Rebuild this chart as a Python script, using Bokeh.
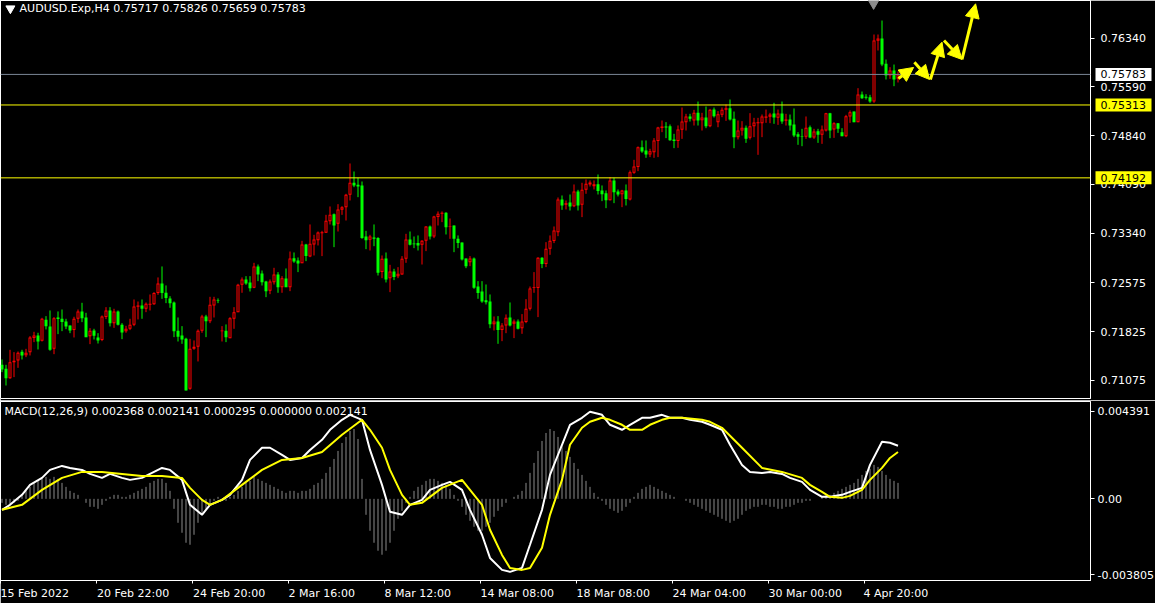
from bokeh.plotting import figure
from bokeh.layouts import column, row
from bokeh.models import Span, Label, Arrow, NormalHead, FixedTicker, Range1d, NumeralTickFormatter
from bokeh.core.properties import value
from bokeh.embed import file_html
from bokeh.resources import INLINE

# ---------------- data ----------------
opens = [0.71316,0.71255,0.71111,0.71357,0.71383,0.71516,0.71465,0.71511,0.71727,0.71768,
0.71685,0.72008,0.71906,0.71562,0.72044,0.72024,0.71983,0.71921,0.71850,0.72024,
0.72137,0.72044,0.71757,0.71844,0.71737,0.71696,0.72050,0.72152,0.71957,0.72137,
0.71932,0.71834,0.71870,0.71932,0.72208,0.72229,0.72178,0.72239,0.72249,0.72419,
0.72567,0.72424,0.72337,0.72275,0.71839,0.71768,0.71716,0.70947,0.71562,0.71593,
0.71839,0.72060,0.71988,0.72229,0.72306,0.71834,0.71839,0.71726,0.72024,0.72126,
0.72547,0.72629,0.72583,0.72501,0.72829,0.72721,0.72598,0.72454,0.72588,0.72706,
0.72511,0.72644,0.72511,0.72957,0.72921,0.72880,0.73167,0.72983,0.73167,0.73234,
0.73341,0.73347,0.73526,0.73634,0.73485,0.73700,0.73741,0.73931,0.74116,0.74085,
0.74075,0.73290,0.73239,0.73275,0.73265,0.72742,0.72952,0.72649,0.72752,0.72680,
0.72706,0.72947,0.73244,0.73182,0.73188,0.73162,0.73223,0.73444,0.73290,0.73588,
0.73639,0.73654,0.73439,0.73459,0.73254,0.73198,0.72952,0.72895,0.72952,0.72521,
0.72444,0.72311,0.72291,0.71942,0.71983,0.71850,0.71921,0.72044,0.71947,0.71983,
0.71880,0.71973,0.72178,0.72496,0.72496,0.72962,0.72865,0.73101,0.73219,0.73357,
0.73859,0.73777,0.73813,0.73757,0.73982,0.73777,0.74008,0.74090,0.74064,0.74095,
0.73998,0.73957,0.73849,0.74152,0.73982,0.73941,0.73998,0.73859,0.74270,0.74357,
0.74664,0.74613,0.74552,0.74587,0.74757,0.74957,0.74982,0.74987,0.74782,0.74757,
0.74930,0.75048,0.75136,0.75074,0.75192,0.75079,0.75120,0.74987,0.75243,0.75048,
0.75161,0.75238,0.75264,0.75100,0.74818,0.74920,0.74961,0.74807,0.74987,0.75033,
0.75033,0.75115,0.75130,0.75182,0.75115,0.75182,0.75069,0.75089,0.75012,0.74864,
0.74833,0.74823,0.74971,0.74813,0.74910,0.74854,0.74920,0.75187,0.74936,0.75033,
0.74895,0.74833,0.75136,0.75212,0.75048,0.75474,0.75438,0.75433,0.75366,0.76299,
0.76335,0.75946,0.75766,0.75843,0.75717]

highs = [0.71398,0.71316,0.71547,0.71511,0.71521,0.71547,0.71562,0.71757,0.71824,0.71809,
0.72039,0.72065,0.72152,0.72050,0.72137,0.72167,0.72024,0.71921,0.72055,0.72167,
0.72270,0.72116,0.71880,0.71870,0.71803,0.72075,0.72203,0.72203,0.72178,0.72152,
0.71957,0.71916,0.72024,0.72321,0.72290,0.72321,0.72275,0.72398,0.72434,0.72660,
0.72829,0.72537,0.72372,0.72290,0.72044,0.71911,0.71732,0.71716,0.71691,0.71860,
0.72085,0.72085,0.72362,0.72362,0.72337,0.71911,0.71937,0.72049,0.72203,0.72562,
0.72660,0.72680,0.72680,0.72885,0.72859,0.72767,0.72608,0.72629,0.72808,0.72742,
0.72680,0.72798,0.73059,0.73044,0.72967,0.73223,0.73177,0.73475,0.73316,0.73367,
0.73377,0.73623,0.73752,0.73644,0.73787,0.73757,0.73946,0.74413,0.74290,0.74192,
0.74136,0.73377,0.73316,0.73475,0.73280,0.72998,0.73044,0.72854,0.72793,0.72818,
0.72988,0.73331,0.73367,0.73290,0.73306,0.73234,0.73449,0.73459,0.73608,0.73675,
0.73675,0.73664,0.73567,0.73459,0.73306,0.73198,0.72952,0.72988,0.72967,0.72603,
0.72603,0.72552,0.72398,0.72060,0.72065,0.71957,0.72091,0.72275,0.72014,0.72014,
0.72096,0.72326,0.72521,0.72742,0.72972,0.72972,0.73203,0.73306,0.73444,0.73890,
0.73921,0.73844,0.73936,0.74090,0.74008,0.74116,0.74167,0.74152,0.74152,0.74244,
0.74075,0.73998,0.74203,0.74193,0.74013,0.74008,0.74090,0.74305,0.74469,0.74675,
0.74767,0.74767,0.74639,0.74803,0.74977,0.75074,0.75049,0.75013,0.74869,0.74998,
0.75274,0.75177,0.75177,0.75238,0.75366,0.75192,0.75289,0.75253,0.75274,0.75218,
0.75274,0.75320,0.75397,0.75212,0.75074,0.75064,0.74997,0.75187,0.75115,0.75115,
0.75166,0.75243,0.75192,0.75346,0.75243,0.75366,0.75177,0.75166,0.75259,0.74895,
0.74946,0.75136,0.74997,0.74946,0.74946,0.74997,0.75192,0.75192,0.75048,0.75033,
0.74956,0.75161,0.75228,0.75212,0.75571,0.75520,0.75479,0.75469,0.76397,0.76397,
0.76612,0.76012,0.75894,0.75935,0.75826]

lows = [0.71204,0.70998,0.71101,0.71127,0.71270,0.71398,0.71434,0.71460,0.71665,0.71552,
0.71675,0.71860,0.71532,0.71480,0.71788,0.71834,0.71865,0.71803,0.71737,0.71962,
0.71973,0.71742,0.71634,0.71706,0.71644,0.71680,0.72019,0.71906,0.71885,0.71921,
0.71711,0.71809,0.71850,0.71911,0.72014,0.72024,0.72126,0.72152,0.72239,0.72393,
0.72331,0.72265,0.72193,0.71742,0.71675,0.71639,0.70922,0.70932,0.71547,0.71368,
0.71809,0.71742,0.71957,0.72044,0.72265,0.71675,0.71665,0.71726,0.71870,0.72126,
0.72424,0.72547,0.72444,0.72495,0.72603,0.72536,0.72357,0.72403,0.72552,0.72424,
0.72424,0.72511,0.72449,0.72885,0.72742,0.72880,0.72911,0.72972,0.72998,0.73152,
0.72988,0.73347,0.73475,0.73126,0.73367,0.73623,0.73536,0.73844,0.74049,0.73895,
0.73254,0.73095,0.73075,0.73141,0.72690,0.72649,0.72583,0.72434,0.72619,0.72649,
0.72701,0.72885,0.73152,0.73111,0.73075,0.72859,0.73065,0.73244,0.73265,0.73459,
0.73511,0.73321,0.73254,0.73049,0.73111,0.72921,0.72803,0.72834,0.72485,0.72332,
0.72270,0.72244,0.71880,0.71844,0.71639,0.71680,0.71803,0.71906,0.71727,0.71860,
0.71793,0.71957,0.72152,0.72424,0.72050,0.72803,0.72819,0.73008,0.73188,0.73295,
0.73700,0.73706,0.73690,0.73741,0.73690,0.73588,0.73947,0.74059,0.74013,0.73936,
0.73834,0.73726,0.73844,0.73803,0.73906,0.73741,0.73767,0.73844,0.74254,0.74295,
0.74577,0.74500,0.74511,0.74500,0.74511,0.74895,0.74803,0.74762,0.74649,0.74654,
0.74792,0.74920,0.75059,0.74997,0.74997,0.74920,0.74956,0.74971,0.75120,0.74971,
0.75125,0.75069,0.75074,0.74648,0.74782,0.74843,0.74730,0.74782,0.74818,0.74546,
0.74818,0.75038,0.75033,0.75023,0.75007,0.75023,0.74997,0.74920,0.74818,0.74700,
0.74679,0.74792,0.74802,0.74792,0.74730,0.74715,0.74905,0.74802,0.74807,0.74884,
0.74833,0.74818,0.75038,0.75048,0.75048,0.75407,0.75397,0.75346,0.75346,0.76151,
0.75910,0.75705,0.75715,0.75602,0.75659]

closes = [0.71245,0.71111,0.71357,0.71378,0.71501,0.71460,0.71501,0.71737,0.71768,0.71675,
0.72024,0.71911,0.71547,0.72034,0.72019,0.71973,0.71906,0.71844,0.72024,0.72137,
0.72034,0.71742,0.71839,0.71762,0.71691,0.72060,0.72152,0.71957,0.72137,0.71932,
0.71814,0.71870,0.71932,0.72214,0.72229,0.72178,0.72255,0.72255,0.72419,0.72567,
0.72419,0.72342,0.72265,0.71834,0.71747,0.71706,0.70922,0.71562,0.71593,0.71839,
0.72060,0.71988,0.72239,0.72321,0.72296,0.71844,0.71742,0.72034,0.72126,0.72547,
0.72629,0.72567,0.72495,0.72829,0.72706,0.72588,0.72449,0.72598,0.72706,0.72511,
0.72649,0.72511,0.72952,0.72906,0.72875,0.73167,0.72988,0.73177,0.73244,0.73352,
0.73357,0.73531,0.73623,0.73459,0.73705,0.73741,0.73931,0.74116,0.74075,0.74059,
0.73265,0.73234,0.73290,0.73254,0.72731,0.72947,0.72629,0.72752,0.72665,0.72716,
0.72947,0.73244,0.73162,0.73172,0.73152,0.73223,0.73444,0.73290,0.73598,0.73639,
0.73654,0.73434,0.73449,0.73254,0.73188,0.72937,0.72834,0.72952,0.72501,0.72419,
0.72291,0.72280,0.71942,0.71983,0.71850,0.71921,0.72039,0.71921,0.71983,0.71870,
0.71983,0.72178,0.72490,0.72511,0.72962,0.72865,0.73101,0.73224,0.73383,0.73859,
0.73767,0.73803,0.73752,0.73982,0.73767,0.74008,0.74100,0.74121,0.74095,0.73988,
0.73941,0.73849,0.74152,0.73972,0.73936,0.73998,0.73865,0.74280,0.74367,0.74664,
0.74598,0.74552,0.74603,0.74767,0.74967,0.74982,0.74967,0.74772,0.74757,0.74936,
0.75059,0.75136,0.75100,0.75192,0.75074,0.75120,0.74987,0.75238,0.75141,0.75171,
0.75238,0.75264,0.75089,0.74818,0.74920,0.74961,0.74792,0.74987,0.75043,0.75048,
0.75136,0.75136,0.75166,0.75120,0.75182,0.75059,0.75089,0.74997,0.74843,0.74823,
0.74823,0.74961,0.74813,0.74905,0.74854,0.74936,0.75187,0.74920,0.75033,0.74946,
0.74833,0.75141,0.75202,0.75048,0.75474,0.75418,0.75423,0.75366,0.76304,0.76335,
0.75935,0.75766,0.75843,0.75705,0.75783]

# MACD main (white) and signal (yellow), read at bar positions
macd_bar = [0,2,5,7,10,12,15,17,20,22,25,27,30,32,35,37,40,42,45,47,50,52,55,57,60,62,65,67,70,72,
            75,77,80,82,85,87,90,92,95,97,100,102,105,107,110,112,115,117,120,122,125,127,130,132,135,137,
            140,142,145,147,150,152,155,157,160,162,165,167,170,172,175,177,180,182,185,187,190,192,195,197,
            200,202,205,207,210,212,215,217,220,222,224]
macd_main = [-0.00055,-0.00030,0.00020,0.00070,0.00105,0.00145,0.00165,0.00155,0.00145,0.00125,
             0.00105,0.00125,0.00105,0.00095,0.00105,0.00125,0.00155,0.00145,0.00095,-0.00030,
             -0.00080,-0.00030,-0.00005,0.00020,0.00095,0.00195,0.00256,0.00256,0.00220,0.00195,
             0.00205,0.00245,0.00296,0.00346,0.00396,0.00421,0.00396,0.00245,0.00070,-0.00065,
             -0.00080,-0.00030,-0.00005,0.00045,0.00070,0.00085,0.00045,-0.00055,-0.00180,-0.00296,
             -0.00356,-0.00366,-0.00346,-0.00230,-0.00055,0.00120,0.00271,0.00371,0.00406,0.00436,
             0.00421,0.00371,0.00346,0.00371,0.00406,0.00406,0.00421,0.00406,0.00406,0.00396,
             0.00386,0.00371,0.00346,0.00271,0.00170,0.00135,0.00130,0.00135,0.00125,0.00105,
             0.00085,0.00045,0.00010,0.00010,0.00020,0.00035,0.00055,0.00170,0.00286,0.00281,0.00266]
sig_bar = [0,5,10,15,20,25,30,35,40,45,47,50,52,55,60,65,70,75,80,85,90,92,95,97,100,102,105,110,115,117,
           120,122,125,127,130,132,135,137,140,142,145,147,150,152,155,157,160,162,165,167,170,175,177,180,
           185,190,195,200,202,205,207,210,212,215,217,220,222,224]
macd_signal = [-0.00055,-0.00030,0.00045,0.00105,0.00135,0.00135,0.00125,0.00115,0.00115,0.00105,
               0.00055,-0.00005,-0.00030,-0.00005,0.00070,0.00145,0.00195,0.00205,0.00235,0.00321,
               0.00396,0.00346,0.00256,0.00145,0.00020,-0.00030,-0.00020,0.00055,0.00095,0.00045,
               -0.00030,-0.00155,-0.00281,-0.00346,-0.00356,-0.00346,-0.00245,-0.00080,0.00095,0.00271,
               0.00356,0.00386,0.00406,0.00396,0.00371,0.00346,0.00346,0.00371,0.00396,0.00406,
               0.00406,0.00396,0.00386,0.00356,0.00256,0.00155,0.00135,0.00105,0.00070,0.00035,
               0.00010,0.00005,0.00015,0.00045,0.00095,0.00155,0.00205,0.00235]
macd_hist = [-0.0002,-0.0003,-0.0003,-0.0002,-0.0001,0.0002,0.0004,0.0006,0.0008,0.0009,
             0.0010,0.0011,0.0010,0.0011,0.0010,0.0008,0.0006,0.0004,0.0003,0.0002,
             0.0000,-0.0002,-0.0004,-0.0004,-0.0005,-0.0003,-0.0001,0.0001,0.0002,0.0002,
             0.0001,0.0001,0.0002,0.0003,0.0004,0.0005,0.0006,0.0008,0.0009,0.0010,
             0.0010,0.0008,0.0004,-0.0005,-0.0012,-0.0017,-0.0022,-0.0023,-0.0018,-0.0012,
             -0.0008,-0.0005,-0.0003,-0.0001,0.0001,-0.0001,-0.0001,0.0001,0.0002,0.0004,
             0.0006,0.0008,0.0009,0.0011,0.0010,0.0009,0.0008,0.0007,0.0006,0.0005,
             0.0004,0.0003,0.0004,0.0004,0.0003,0.0004,0.0004,0.0005,0.0007,0.0008,
             0.0010,0.0013,0.0016,0.0020,0.0024,0.0028,0.0031,0.0034,0.0035,0.0030,
             0.0010,-0.0008,-0.0016,-0.0022,-0.0026,-0.0028,-0.0026,-0.0022,-0.0016,-0.0010,
             -0.0006,-0.0002,0.0001,0.0004,0.0006,0.0007,0.0009,0.0010,0.0010,0.0009,
             0.0008,0.0007,0.0005,0.0002,-0.0001,-0.0004,-0.0008,-0.0011,-0.0014,-0.0016,
             -0.0016,-0.0014,-0.0012,-0.0009,-0.0006,-0.0004,-0.0002,0.0000,0.0001,0.0002,
             0.0004,0.0008,0.0013,0.0018,0.0024,0.0029,0.0033,0.0035,0.0034,0.0031,
             0.0027,0.0024,0.0021,0.0018,0.0015,0.0012,0.0009,0.0006,0.0003,0.0001,
             -0.0001,-0.0003,-0.0005,-0.0006,-0.0007,-0.0006,-0.0004,-0.0002,0.0001,0.0003,
             0.0005,0.0006,0.0007,0.0006,0.0005,0.0004,0.0003,0.0002,0.0001,0.0000,
             0.0000,-0.0001,-0.0002,-0.0003,-0.0004,-0.0005,-0.0006,-0.0007,-0.0008,-0.0009,
             -0.0010,-0.0011,-0.0012,-0.0011,-0.0010,-0.0008,-0.0006,-0.0005,-0.0004,-0.0004,
             -0.0003,-0.0003,-0.0004,-0.0004,-0.0005,-0.0005,-0.0004,-0.0004,-0.0003,-0.0002,
             -0.0002,-0.0001,-0.0001,0.0000,0.0000,0.0001,0.0002,0.0002,0.0003,0.0004,
             0.0005,0.0006,0.0007,0.0008,0.0010,0.0012,0.0014,0.0015,0.0017,0.0016,
             0.0014,0.0012,0.0010,0.0009,0.0008]

price_ticks = [0.76340, 0.75590, 0.74840, 0.74090, 0.73340, 0.72575, 0.71825, 0.71075]
macd_ticks = [0.004391, 0.0, -0.003805]
macd_tick_labels = ["0.004391", "0.00", "-0.003805"]
time_tick_bars = [-0.375, 23.625, 47.625, 71.625, 95.625, 119.625, 143.625, 167.625, 191.625, 215.625]
time_tick_labels = ["15 Feb 2022", "20 Feb 22:00", "24 Feb 20:00", "2 Mar 16:00", "8 Mar 12:00",
                    "14 Mar 08:00", "18 Mar 08:00", "24 Mar 04:00", "30 Mar 00:00", "4 Apr 20:00"]
bid_line = 0.75783
levels = [0.75313, 0.74192]
box_values = [bid_line] + levels
box_colors = ["#FFFFFF", "#FFFF00", "#FFFF00"]
title_text = "AUDUSD.Exp,H4  0.75717 0.75826 0.75659 0.75783"
macd_title = "MACD(12,26,9) 0.002368 0.002141 0.000295 0.000000 0.002141"
# forecast zig-zag arrows (bar index, price)
arrow_x0 = [224.1, 228.1, 232.1, 235.5, 240.0]
arrow_y0 = [0.75720, 0.75971, 0.75705, 0.76305, 0.76013]
arrow_x1 = [227.9, 231.9, 235.0, 240.0, 243.4]
arrow_y1 = [0.75890, 0.75705, 0.76279, 0.76013, 0.76869]

# ---------------- styling ----------------
FONT = "DejaVu Sans"
BULL = "#FF0000"
BEAR = "#00FF00"
FRAME_W = 1090
FRAME_H = 398
AXIS_W = 65
X0 = -0.375
X1 = X0 + FRAME_W / 4.0   # 4 px per bar
Y0, Y1 = 0.70798, 0.76920
PX = (Y1 - Y0) / FRAME_H  # price per pixel, for the 1 px outline of hollow candles

idx = list(range(len(opens)))
up = [c > o for o, c in zip(opens, closes)]
cols = [BULL if u else BEAR for u in up]
tops = [max(o, c) for o, c in zip(opens, closes)]
bots = [min(o, c) for o, c in zip(opens, closes)]
hollow_x = [i for i in idx if up[i] and tops[i] - bots[i] > 2.2 * PX]
hollow_top = [tops[i] - PX for i in hollow_x]
hollow_bot = [bots[i] + PX for i in hollow_x]

# approximate DejaVu Sans advance widths (em): Bokeh centres labels on ticks,
# so lead each with blank space of equal width to make it start at its tick
_W = {"0": .636, "1": .636, "2": .636, "3": .636, "4": .636, "5": .636, "6": .636, "7": .636,
      "8": .636, "9": .636, " ": .318, ":": .337, "F": .575, "e": .615, "b": .635, "M": .863,
      "a": .613, "r": .411, "A": .684, "p": .635}


def left_pad(s):
    w = sum(_W.get(ch, .6) for ch in s)
    return "\u00a0" * int(round(w / 0.318)) + s


def style_axis(ax, standoff):
    ax.axis_line_color = "white"
    ax.major_tick_line_color = "white"
    ax.major_tick_in = 0
    ax.major_tick_out = 4
    ax.minor_tick_line_color = None
    ax.major_label_text_color = "white"
    ax.major_label_text_font = FONT
    ax.major_label_text_font_size = "11px"
    ax.major_label_standoff = standoff


p = figure(frame_width=FRAME_W, frame_height=FRAME_H, x_range=Range1d(X0, X1),
           y_range=Range1d(Y0, Y1), output_backend="svg", toolbar_location=None,
           x_axis_location=None, y_axis_location="right",
           background_fill_color="black", border_fill_color="black",
           outline_line_color="white", outline_line_width=1,
           min_border_left=0, min_border_right=AXIS_W, min_border_top=0, min_border_bottom=2)
p.grid.visible = False
style_axis(p.yaxis[0], 6)
p.yaxis.ticker = FixedTicker(ticks=price_ticks)
p.yaxis.formatter = NumeralTickFormatter(format="0.00000")

p.add_layout(Span(location=bid_line, dimension="width", line_color="#7A8796", line_width=1))
for lv in levels:
    p.add_layout(Span(location=lv, dimension="width", line_color="#FFFF00", line_width=1))

# candles: wick, solid 3 px body, then a 1 px black core for the hollow (rising) ones
p.segment(x0=idx, y0=lows, x1=idx, y1=highs, line_color=cols, line_width=1)
p.vbar(x=idx, width=0.75, top=tops, bottom=bots, fill_color=cols, line_color=None)
p.vbar(x=hollow_x, width=0.25, top=hollow_top, bottom=hollow_bot, fill_color="#000000", line_color=None)

for xs, ys, xe, ye in zip(arrow_x0, arrow_y0, arrow_x1, arrow_y1):
    p.add_layout(Arrow(x_start=xs, y_start=ys, x_end=xe, y_end=ye, line_color="#FFFF00", line_width=3,
                       end=NormalHead(size=14, fill_color="#FFFF00", line_color="#FFFF00", line_width=1)))

# shift marker at the top
p.scatter(x=[217.9], y=[0.76890], marker="inverted_triangle", size=12, color="#8C8C8C")

# title
p.scatter(x=[2.1], y=[0.76797], marker="inverted_triangle", size=9, color="white")
p.add_layout(Label(x=4.4, y=0.76797, text=title_text, text_color="white", text_font=FONT,
                   text_font_size="11px", text_baseline="middle", text_align="left"))

# transparent strip laid over the price-axis area, holding the price boxes
strip = figure(frame_width=AXIS_W, frame_height=FRAME_H, x_range=Range1d(0, AXIS_W), y_range=p.y_range,
               output_backend="svg", toolbar_location=None, x_axis_location=None, y_axis_location=None,
               background_fill_color=None, border_fill_color=None, outline_line_color=None,
               min_border_left=0, min_border_right=0, min_border_top=0, min_border_bottom=2,
               styles={"margin-left": "-%dpx" % AXIS_W})
strip.grid.visible = False
strip.rect(x=[33] * 3, y=box_values, width=56, height=13, height_units="screen",
           fill_color=box_colors, line_color=None)
strip.text(x=[10] * 3, y=box_values, text=["%.5f" % v for v in box_values], text_color="black",
           text_font=value(FONT), text_font_size="11px", text_baseline="middle", text_align="left")

# ---------------- MACD panel ----------------
q = figure(frame_width=FRAME_W, frame_height=179, x_range=p.x_range,
           y_range=Range1d(-0.004091, 0.004877), output_backend="svg", toolbar_location=None,
           y_axis_location="right",
           background_fill_color="black", border_fill_color="black",
           outline_line_color="white", outline_line_width=1,
           min_border_left=0, min_border_right=AXIS_W, min_border_top=1, min_border_bottom=23)
q.grid.visible = False
style_axis(q.yaxis[0], 3)
q.yaxis.ticker = FixedTicker(ticks=macd_ticks)
q.yaxis.major_label_overrides = {t: s for t, s in zip(macd_ticks, macd_tick_labels)}
style_axis(q.xaxis[0], 3)
q.xaxis.major_tick_out = 3
q.xaxis.ticker = FixedTicker(ticks=time_tick_bars)
q.xaxis.major_label_overrides = {t: (s if i == 0 else left_pad(s))
                                 for i, (t, s) in enumerate(zip(time_tick_bars, time_tick_labels))}

q.segment(x0=idx, y0=[0.0] * len(idx), x1=idx, y1=macd_hist, line_color="#8A8A8A", line_width=1)
q.line(macd_bar, macd_main, line_color="#FFFFFF", line_width=2)
q.line(sig_bar, macd_signal, line_color="#FFFF00", line_width=2)
q.add_layout(Label(x=0.6, y=0.004376, text=macd_title, text_color="white", text_font=FONT,
                   text_font_size="11px", text_baseline="middle", text_align="left"))

layout = column(row(p, strip, spacing=0), q, spacing=0)
open("out.html", "w").write(file_html(layout, INLINE))
